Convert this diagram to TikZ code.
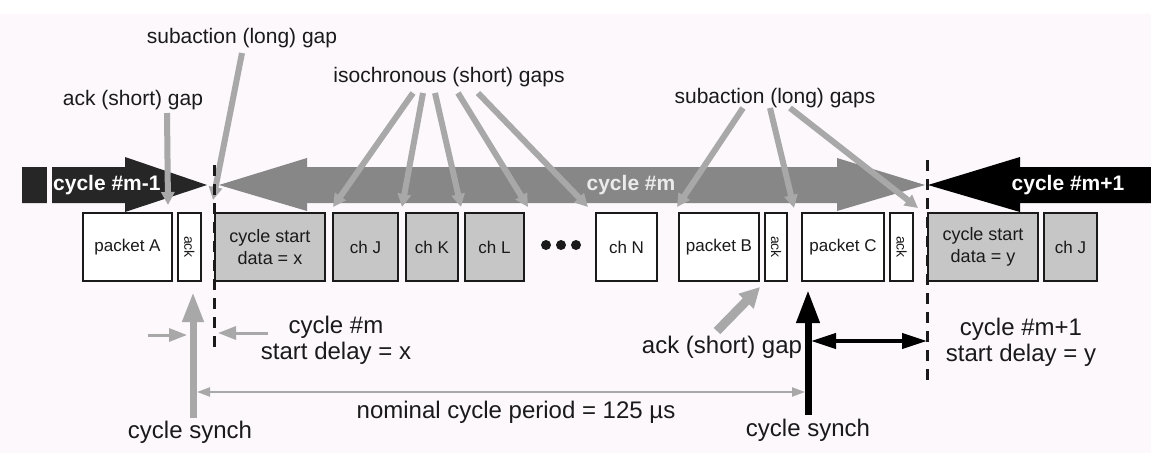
\documentclass[tikz,border=0pt]{standalone}
\usepackage{fontspec}
\setmainfont{Liberation Sans}
\usetikzlibrary{arrows.meta}
\definecolor{bg}{HTML}{FCF8FC}
\definecolor{ink}{HTML}{1A1A1A}
\definecolor{band}{HTML}{878787}
\definecolor{dark}{HTML}{262626}
\definecolor{ptr}{HTML}{A8A8A8}
\definecolor{boxgray}{HTML}{C6C6C6}
\begin{document}
\begin{tikzpicture}[x=1pt,y=-1pt,
 wbox/.style={draw=ink,line width=2.5pt,fill=white,inner sep=0pt,minimum height=68pt,font=\fontsize{17}{19}\selectfont,text=ink},
 gbox/.style={wbox,fill=boxgray},
 ptrline/.style={draw=ptr,line width=6pt,-{Triangle[length=13pt,width=13pt]}},
 lbl/.style={font=\fontsize{21}{23}\selectfont,text=ink,inner sep=0pt},
 blbl/.style={font=\fontsize{24}{26}\selectfont,text=ink,inner sep=0pt,align=center},
 cyc/.style={font=\bfseries\fontsize{21}{23}\selectfont,inner sep=0pt},
 gapline/.style={draw=ink,line width=3pt,dash pattern=on 11pt off 8pt}]
\useasboundingbox (0,0) rectangle (1151,453);
\fill[bg] (0,0) rectangle (1151,453);
\fill[white] (0,0) rectangle (1151,14);

% cycle arrows
\fill[dark] (22,167) -- (125,167) -- (125,157) -- (207,185) -- (125,212) -- (125,203) -- (22,203) -- cycle;
\fill[bg] (47,165) rectangle (52,205);
\fill[band] (219,185) -- (307,158) -- (307,167) -- (837,167) -- (837,158) -- (925,185) -- (837,211) -- (837,203) -- (307,203) -- (307,211) -- cycle;
\fill[black] (928,185) -- (1020,157) -- (1020,167) -- (1151,167) -- (1151,203) -- (1020,203) -- (1020,212) -- cycle;
\node[cyc,text=white,anchor=west] (cm1) at (53,185) {cycle \#m-1};
\node[cyc,text=white!92!black] (cm) at (631,185) {cycle \#m};
\node[cyc,text=white] (cp1) at (1068,185) {cycle \#m+1};

% top labels
\node[lbl] (sub1) at (242,38) {subaction (long) gap};
\node[lbl] (ack1l) at (133,100) {ack (short) gap};
\node[lbl] (iso) at (449,77) {isochronous (short) gaps};
\node[lbl] (subs) at (775,98) {subaction (long) gaps};

% pointer start and end points
\coordinate (s1a) at (242,53); \coordinate (g1) at (213,200);
\coordinate (a1a) at (167,113); \coordinate (g0) at (168,205);
\coordinate (i1) at (413,93); \coordinate (i2) at (423,93); \coordinate (i3) at (435,93);
\coordinate (i4) at (458,93); \coordinate (i5) at (478,93);
\coordinate (j1) at (333,207); \coordinate (j2) at (402,207); \coordinate (j3) at (461,207);
\coordinate (j4) at (528,207); \coordinate (j5) at (588,207);
\coordinate (u1) at (743,108); \coordinate (u2) at (770,108); \coordinate (u3) at (790,108);
\coordinate (v1) at (677,207); \coordinate (v2) at (794,208); \coordinate (v3) at (918,208);

\draw[ptrline] (s1a) -- (g1);
\draw[ptrline] (a1a) -- (g0);
\foreach \k in {1,...,5} \draw[ptrline] (i\k) -- (j\k);
\foreach \k in {1,2,3} \draw[ptrline] (u\k) -- (v\k);

% boxes
\node[wbox,minimum width=89pt] (pA) at (127.5,247) {packet A};
\node[wbox,minimum width=23pt] (ak1) at (189.5,247) {};
\node[rotate=-90,font=\fontsize{14}{16}\selectfont,text=ink,inner sep=0pt] at (ak1) {ack};
\node[gbox,minimum width=110pt,font=\fontsize{18}{22}\selectfont,align=center] (cs1) at (270,247) {cycle start\\data = x};
\node[gbox,minimum width=65pt] (chJ) at (365.5,247) {ch J};
\node[gbox,minimum width=52pt] (chK) at (432,247) {ch K};
\node[gbox,minimum width=59pt] (chL) at (494.5,247) {ch L};
\foreach \xx/\nm in {546/d1,561/d2,576/d3} \fill[ink] (\xx,245) circle (5pt);
\node[wbox,minimum width=61pt] (chN) at (626.5,247) {ch N};
\node[wbox,minimum width=80pt] (pB) at (719,247) {packet B};
\node[wbox,minimum width=22pt] (ak2) at (776,247) {};
\node[rotate=-90,font=\fontsize{14}{16}\selectfont,text=ink,inner sep=0pt] at (ak2) {ack};
\node[wbox,minimum width=82pt] (pC) at (843,247) {packet C};
\node[wbox,minimum width=23pt] (ak3) at (901.5,247) {};
\node[rotate=-90,font=\fontsize{14}{16}\selectfont,text=ink,inner sep=0pt] at (ak3) {ack};
\node[gbox,minimum width=110pt,font=\fontsize{18}{22}\selectfont,align=center] (cs2) at (983,247) {cycle start\\data = y};
\node[gbox,minimum width=53pt] (chJ2) at (1070.5,247) {ch J};

% gap dashed lines
\coordinate (dl1t) at (214,165); \coordinate (dl1b) at (214,347);
\coordinate (dl2t) at (927,160); \coordinate (dl2b) at (927,386);
\draw[gapline] (dl1t) -- (dl1b);
\draw[gapline] (dl2t) -- (dl2b);

% bottom
\coordinate (sy1b) at (193,418); \coordinate (sy1t) at (193,292);
\draw[draw=ptr,line width=7pt,-{Triangle[length=30pt,width=20pt]}] (sy1b) -- (sy1t);
\coordinate (sa1) at (148,335); \coordinate (sa1e) at (187,335);
\coordinate (sa2) at (268,333); \coordinate (sa2e) at (218,333);
\draw[draw=ptr,line width=3pt,-{Triangle[length=18pt,width=13pt]}] (sa1) -- (sa1e);
\draw[draw=ptr,line width=3pt,-{Triangle[length=18pt,width=13pt]}] (sa2) -- (sa2e);
\coordinate (dimL) at (197,392); \coordinate (dimR) at (805,392);
\draw[draw=ptr,line width=2pt,{Triangle[length=13pt,width=9pt]}-{Triangle[length=13pt,width=9pt]}] (dimL) -- (dimR);

\coordinate (sy2b) at (808,415); \coordinate (sy2t) at (808,290);
\draw[draw=black,line width=7pt,-{Triangle[length=33pt,width=22pt]}] (sy2b) -- (sy2t);
\coordinate (dyL) at (811,341); \coordinate (dyR) at (927,341);
\draw[draw=black,line width=4pt,{Triangle[length=25pt,width=15pt]}-{Triangle[length=25pt,width=15pt]}] (dyL) -- (dyR);

\coordinate (ag0) at (717,331); \coordinate (ag1) at (760,287);
\draw[draw=ptr,line width=9pt,-{Triangle[length=20pt,width=20pt]}] (ag0) -- (ag1);

\node[blbl] (sdx) at (336,340) {cycle \#m\\start delay = x};
\node[blbl] (sdy) at (1021,342) {cycle \#m+1\\start delay = y};
\node[blbl] (nom) at (516,412) {nominal cycle period = 125 µs};
\node[blbl] (cs1l) at (190,432) {cycle synch};
\node[blbl] (cs2l) at (808,430) {cycle synch};
\node[blbl] (ack2l) at (722,347) {ack (short) gap};
\end{tikzpicture}
\end{document}
